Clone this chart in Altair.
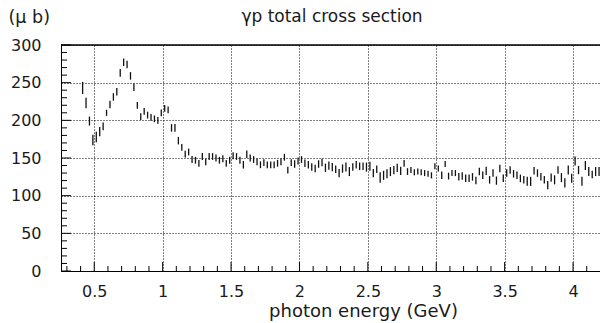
import altair as alt
import pandas as pd

# photon energy (GeV) of each measurement
energy = [
    0.415, 0.44, 0.465, 0.49, 0.515, 0.54, 0.565, 0.59, 0.615, 0.64,
    0.665, 0.69, 0.715, 0.74, 0.765, 0.79, 0.815, 0.84, 0.865, 0.89,
    0.915, 0.94, 0.965, 0.99, 1.015, 1.04, 1.065, 1.09, 1.115, 1.14,
    1.165, 1.19, 1.215, 1.24, 1.265, 1.29, 1.315, 1.34, 1.365, 1.39,
    1.415, 1.44, 1.465, 1.49, 1.515, 1.54, 1.565, 1.59, 1.615, 1.64,
    1.665, 1.69, 1.715, 1.74, 1.765, 1.79, 1.815, 1.84, 1.865, 1.89,
    1.915, 1.94, 1.965, 1.99, 2.015, 2.04, 2.065, 2.09, 2.115, 2.14,
    2.165, 2.19, 2.215, 2.24, 2.265, 2.29, 2.315, 2.34, 2.365, 2.39,
    2.415, 2.44, 2.465, 2.49, 2.515, 2.54, 2.565, 2.59, 2.615, 2.64,
    2.665, 2.69, 2.715, 2.74, 2.765, 2.79, 2.815, 2.84, 2.865, 2.89,
    2.915, 2.94, 2.965, 2.99, 3.015, 3.04, 3.065, 3.09, 3.115, 3.14,
    3.165, 3.19, 3.215, 3.24, 3.265, 3.29, 3.315, 3.34, 3.365, 3.39,
    3.415, 3.44, 3.465, 3.49, 3.515, 3.54, 3.565, 3.59, 3.615, 3.64,
    3.665, 3.69, 3.715, 3.74, 3.765, 3.79, 3.815, 3.84, 3.865, 3.89,
    3.915, 3.94, 3.965, 3.99, 4.015, 4.04, 4.065, 4.09, 4.115, 4.14,
    4.165, 4.19,
]

# total cross section (micro-barn)
sigma = [
    243, 223, 199, 174, 178, 185, 192, 210, 221, 231,
    238, 263, 277, 274, 259, 244, 220, 205, 212, 207,
    204, 202, 200, 210, 216, 214, 190, 190, 173, 164,
    155, 158, 148, 147, 143, 152, 145, 152, 152, 150,
    147, 149, 143, 147, 153, 152, 147, 141, 155, 150,
    148, 145, 141, 144, 141, 141, 141, 143, 145, 151,
    134, 144, 142, 146, 148, 143, 141, 138, 136, 142,
    144, 137, 140, 138, 135, 130, 136, 138, 132, 138,
    141, 139, 139, 138, 139, 130, 135, 124, 127, 129,
    132, 134, 137, 133, 143, 132, 134, 131, 132, 131,
    130, 129, 127, 139, 136, 127, 142, 126, 130, 130,
    125, 126, 123, 123, 125, 120, 132, 127, 133, 121,
    130, 120, 136, 123, 130, 134, 129, 127, 123, 121,
    119, 119, 133, 130, 125, 121, 114, 124, 121, 134,
    124, 117, 134, 123, 146, 134, 119, 140, 132, 128,
    132, 132,
]

# half length of the error bars (micro-barn)
error = [
    8, 7, 6, 7, 7, 6, 5, 4, 5, 5,
    5, 5, 5, 5, 5, 5, 4.5, 4.5, 4.5, 4.5,
    4.5, 4.5, 4.5, 4.5, 4.5, 4.5, 5, 5, 5, 4.5,
    4.5, 4.5, 4.5, 4.5, 4.5, 4.5, 4.5, 4.5, 4.5, 4.5,
    4.5, 4.5, 4.5, 4.5, 4.5, 4.5, 4.5, 5, 5, 4.5,
    4.5, 4.5, 4.5, 4.5, 4.5, 4.5, 4.5, 4.5, 4.5, 4.5,
    4.5, 4.5, 5, 4.5, 4.5, 5, 5, 5, 5, 5,
    5, 5.5, 5.5, 5.5, 5, 5.5, 5.5, 6, 6, 5,
    5, 5, 5, 6, 6, 5.5, 5, 7, 6, 6,
    6, 5.5, 5.5, 5.5, 4.5, 4.5, 4, 4, 4, 4,
    4, 4, 4, 4, 4, 5, 4, 4.5, 4, 4,
    5, 5, 5, 5, 5, 5, 5, 5, 5.5, 5,
    5, 5.5, 5, 5, 5, 5, 5, 5, 5, 5,
    6, 6, 5, 5, 5, 5, 5.5, 5.5, 6, 5,
    6, 6, 6, 6, 6, 5.5, 6, 6, 6, 5,
    6, 6,
]

x_major = [0.5, 1.0, 1.5, 2.0, 2.5, 3.0, 3.5, 4.0]
x_minor = [0.3, 0.4, 0.6, 0.7, 0.8, 0.9, 1.1, 1.2, 1.3, 1.4, 1.6, 1.7, 1.8, 1.9,
           2.1, 2.2, 2.3, 2.4, 2.6, 2.7, 2.8, 2.9, 3.1, 3.2, 3.3, 3.4,
           3.6, 3.7, 3.8, 3.9, 4.1]
y_major = [0, 50, 100, 150, 200, 250, 300]
y_minor = [10, 20, 30, 40, 60, 70, 80, 90, 110, 120, 130, 140, 160, 170, 180, 190,
           210, 220, 230, 240, 260, 270, 280, 290]

title_text = "γp total cross section"
x_title = "photon energy (GeV)"
y_title = "(μ b)"

FONT = "DejaVu Sans"
INK = "#1a1a1a"
W, H = 539, 226

df = pd.DataFrame({"E": energy, "s": sigma, "e": error})
df["lo"] = df["s"] - df["e"]
df["hi"] = df["s"] + df["e"]

xscale = alt.Scale(domain=[0.257, 4.197], nice=False, zero=False)
yscale = alt.Scale(domain=[0, 300], nice=False, zero=False)

xaxis = alt.Axis(
    values=x_major, format="~g", grid=True, gridDash=[1, 2], gridColor="black",
    gridOpacity=1, gridWidth=1, ticks=False, tickSize=0, domain=True,
    domainColor="black", domainWidth=1, labelFont=FONT, labelFontSize=16,
    labelColor=INK, labelPadding=12,
    title=x_title, titleFont=FONT, titleFontSize=18,
    titleFontWeight="normal", titleColor=INK, titleX=302, titleY=40,
    titleBaseline="middle", titleAlign="center",
)
yaxis = alt.Axis(
    values=y_major, format="d", grid=True, gridDash=[1, 2], gridColor="black",
    gridOpacity=1, gridWidth=1, ticks=False, tickSize=0, domain=True,
    domainColor="black", domainWidth=1, labelFont=FONT, labelFontSize=16,
    labelColor=INK, labelPadding=20,
    title=y_title, titleFont=FONT, titleFontSize=17.5, titleFontWeight="normal",
    titleColor=INK, titleAngle=0, titleX=-53, titleY=-28,
    titleAlign="left", titleBaseline="middle",
)

bars = alt.Chart(df).mark_rule(color="#111111", strokeWidth=1.3).encode(
    x=alt.X("E:Q", scale=xscale, axis=xaxis),
    y=alt.Y("lo:Q", scale=yscale, axis=yaxis),
    y2="hi:Q",
)

xminor = alt.Chart(pd.DataFrame({"E": x_minor})).mark_rule(color="black").encode(
    x=alt.X("E:Q", scale=xscale, axis=xaxis), y=alt.value(H), y2=alt.value(H - 5)
)
xmajor = alt.Chart(pd.DataFrame({"E": x_major})).mark_rule(color="black").encode(
    x=alt.X("E:Q", scale=xscale, axis=xaxis), y=alt.value(H), y2=alt.value(H - 9)
)
yminor = alt.Chart(pd.DataFrame({"lo": y_minor})).mark_rule(color="black").encode(
    y=alt.Y("lo:Q", scale=yscale, axis=yaxis), x=alt.value(0), x2=alt.value(6)
)
ymajor = alt.Chart(pd.DataFrame({"lo": y_major})).mark_rule(color="black").encode(
    y=alt.Y("lo:Q", scale=yscale, axis=yaxis), x=alt.value(0), x2=alt.value(10)
)
topline = alt.Chart(pd.DataFrame({"lo": [300]})).mark_rule(
    color="black", strokeWidth=1.5
).encode(y=alt.Y("lo:Q", scale=yscale, axis=yaxis), x=alt.value(0), x2=alt.value(W))

title = alt.Chart(pd.DataFrame({"t": [title_text]})).mark_text(
    font=FONT, fontSize=17, color=INK, align="center", baseline="middle"
).encode(text="t:N", x=alt.value(271), y=alt.value(-28))

chart = alt.layer(xminor, xmajor, yminor, ymajor, topline, bars, title).properties(
    width=W, height=H,
    autosize=alt.AutoSizeParams(type="none"),
    padding={"left": 61, "top": 45, "right": 0, "bottom": 52},
).configure_view(stroke=None).configure(background="white")

chart.save("out.html", embed_options={"renderer": "svg", "actions": False})
